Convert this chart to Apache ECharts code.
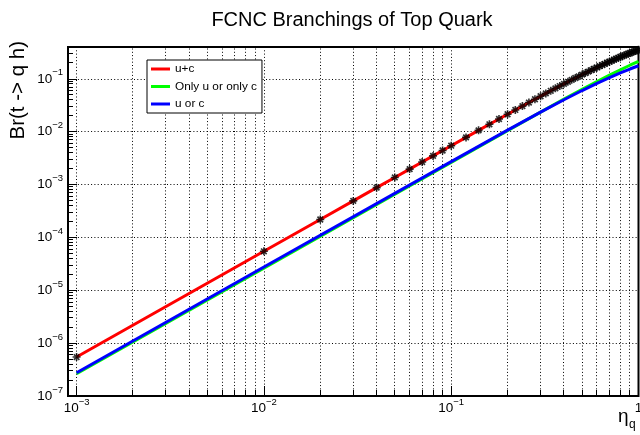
<!DOCTYPE html>
<html>
<head>
<meta charset="utf-8">
<script src="https://cdn.jsdelivr.net/npm/echarts@6.0.0/dist/echarts.min.js"></script>
<style>
  html, body { margin: 0; padding: 0; background: #fff; }
  #chart { width: 640px; height: 435px; }
</style>
</head>
<body>
<div id="chart"></div>
<script>
// eta_q points where the u+c curve is sampled (markers sit on these)
let etaPoints = [0.001, 0.01, 0.02, 0.03, 0.04, 0.05, 0.06, 0.07, 0.08, 0.09, 0.10,
  0.12, 0.14, 0.16, 0.18, 0.20, 0.22, 0.24, 0.26, 0.28, 0.30, 0.32, 0.34, 0.36, 0.38,
  0.40, 0.42, 0.44, 0.46, 0.48, 0.50, 0.52, 0.54, 0.56, 0.58, 0.60, 0.62, 0.64, 0.66,
  0.68, 0.70, 0.72, 0.74, 0.76, 0.78, 0.80, 0.82, 0.84, 0.86, 0.88, 0.90, 0.92, 0.94,
  0.96, 0.98, 1.00]
let brUC = [5.46e-7, 5.46e-5, 2.18e-4, 4.91e-4, 8.73e-4, 1.363e-3, 1.962e-3, 2.668e-3,
  3.482e-3, 4.403e-3, 5.430e-3, 7.80e-3, 0.01059, 0.01379, 0.01738, 0.02137, 0.02575,
  0.03049, 0.03560, 0.04105, 0.04684, 0.05295, 0.05937, 0.06609, 0.07308, 0.08034,
  0.08785, 0.09560, 0.1036, 0.1117, 0.1201, 0.1286, 0.1373, 0.1462, 0.1552, 0.1643,
  0.1735, 0.1828, 0.1921, 0.2016, 0.2111, 0.2206, 0.2302, 0.2398, 0.2494, 0.2590,
  0.2685, 0.2781, 0.2877, 0.2972, 0.3066, 0.3161, 0.3254, 0.3347, 0.3440, 0.3532]

let etaCoarse = [0.001, 0.01, 0.1, 0.2, 0.3, 0.4, 0.5, 0.6, 0.7, 0.8, 0.9, 1.0]
let brOnly = [2.63e-7, 2.63e-5, 2.62e-3, 0.01045, 0.02345, 0.04160, 0.0634, 0.0890, 0.1175, 0.1483, 0.1808, 0.2145]
let brUorC = [2.75e-7, 2.75e-5, 2.72e-3, 0.01069, 0.02342, 0.04017, 0.06005, 0.08214, 0.1055, 0.1295, 0.1533, 0.1766]

let seriesNames = ['u+c', 'Only u or only c', 'u or c']
let seriesColors = ['#ff0000', '#00ff00', '#0000ff']

// minor ticks (2..9 x 10^n)
let xMinor = [0.002, 0.003, 0.004, 0.005, 0.006, 0.007, 0.008, 0.009,
  0.02, 0.03, 0.04, 0.05, 0.06, 0.07, 0.08, 0.09,
  0.2, 0.3, 0.4, 0.5, 0.6, 0.7, 0.8, 0.9]
let yMinor = [2e-7, 3e-7, 4e-7, 5e-7, 6e-7, 7e-7, 8e-7, 9e-7,
  2e-6, 3e-6, 4e-6, 5e-6, 6e-6, 7e-6, 8e-6, 9e-6,
  2e-5, 3e-5, 4e-5, 5e-5, 6e-5, 7e-5, 8e-5, 9e-5,
  2e-4, 3e-4, 4e-4, 5e-4, 6e-4, 7e-4, 8e-4, 9e-4,
  2e-3, 3e-3, 4e-3, 5e-3, 6e-3, 7e-3, 8e-3, 9e-3,
  2e-2, 3e-2, 4e-2, 5e-2, 6e-2, 7e-2, 8e-2, 9e-2,
  0.2, 0.3]

let X_MIN = 0.0009, X_MAX = 1
let Y_MIN = 1e-7, Y_MAX = 0.4
let FONT = 'Liberation Sans'
let DOTS = [1, 2.3]

function pairs(xs, ys) {
  return xs.map((x, i) => [x, ys[i]])
}

function powLabel(value) {
  let e = Math.log10(value)
  let n = Math.round(e)
  if (Math.abs(e - n) > 1e-6) return ''
  if (n === 0) return '{b|1}'
  return '{b|10}{s|' + (n < 0 ? '\u2212' + (-n) : n) + '}'
}

let labelRich = {
  b: {fontSize: 13.5, fontFamily: FONT, color: '#000', lineHeight: 22},
  s: {fontSize: 9.5, fontFamily: FONT, color: '#000', lineHeight: 10, verticalAlign: 'top'}
}

function snap(v) {
  return Math.round(v - 0.5) + 0.5
}

function minorXItem(params, api) {
  let b = api.coord([api.value(0), Y_MIN])
  let t = api.coord([api.value(0), Y_MAX])
  let x = snap(b[0])
  return {
    type: 'group',
    children: [
      {type: 'line', shape: {x1: x, y1: b[1], x2: x, y2: t[1]},
        style: {stroke: '#000', lineWidth: 1, lineDash: DOTS}},
      {type: 'line', shape: {x1: x, y1: b[1], x2: x, y2: b[1] - 6},
        style: {stroke: '#000', lineWidth: 1}}
    ]
  }
}

function minorYItem(params, api) {
  let l = api.coord([X_MIN, api.value(1)])
  let y = snap(l[1])
  return {
    type: 'line',
    shape: {x1: l[0], y1: y, x2: l[0] + 5, y2: y},
    style: {stroke: '#000', lineWidth: 1}
  }
}

// asterisk marker, thick arms
let starPath = 'path://M0 8L20 8L20 12L0 12Z M8 0L12 0L12 20L8 20Z ' +
  'M1.5 4.5L4.5 1.5L18.5 15.5L15.5 18.5Z M15.5 1.5L18.5 4.5L4.5 18.5L1.5 15.5Z'

let myChart = echarts.init(document.getElementById('chart'), null, {renderer: 'canvas'})
let option = {
  animation: false,
  backgroundColor: '#fff',
  textStyle: {fontFamily: FONT},
  grid: {
    left: 68,
    right: 1.5,
    top: 47,
    bottom: 39,
    show: true,
    borderColor: '#000',
    borderWidth: 2,
    outerBoundsMode: 'none'
  },
  legend: {
    data: seriesNames,
    orient: 'vertical',
    left: 147,
    top: 60,
    padding: [3, 5, 3, 4],
    itemGap: 5.5,
    itemWidth: 19,
    itemHeight: 3,
    icon: 'rect',
    backgroundColor: '#fff',
    borderColor: '#000',
    borderWidth: 1,
    borderRadius: 0,
    textStyle: {fontSize: 11.8, fontFamily: FONT, color: '#000', lineHeight: 12}
  },
  xAxis: {
    type: 'log',
    logBase: 10,
    min: X_MIN,
    max: X_MAX,
    splitNumber: 3,
    axisLine: {show: false},
    axisTick: {show: true, inside: true, length: 10, lineStyle: {color: '#000', width: 1}},
    axisLabel: {
      color: '#000',
      margin: 1,
      formatter: powLabel,
      rich: labelRich,
      showMinLabel: true,
      showMaxLabel: true,
      hideOverlap: false
    },
    splitLine: {show: true, lineStyle: {color: '#000', width: 1, type: DOTS}}
  },
  yAxis: {
    type: 'log',
    logBase: 10,
    min: Y_MIN,
    max: Y_MAX,
    splitNumber: 6,
    axisLine: {show: false},
    axisTick: {show: true, inside: true, length: 9, lineStyle: {color: '#000', width: 1}},
    axisLabel: {
      color: '#000',
      margin: 5,
      formatter: powLabel,
      rich: labelRich,
      showMinLabel: true,
      showMaxLabel: true,
      hideOverlap: false
    },
    splitLine: {show: true, lineStyle: {color: '#000', width: 1, type: DOTS}}
  },
  graphic: [
    {type: 'text', x: 352, y: 20, silent: true,
      style: {text: 'FCNC Branchings of Top Quark', fontSize: 20, fontFamily: FONT,
        fill: '#000', align: 'center', verticalAlign: 'middle'}},
    {type: 'text', x: 18.5, y: 41, rotation: Math.PI / 2, silent: true,
      style: {text: 'Br(t -> q h)', fontSize: 20.5, fontFamily: FONT,
        fill: '#000', align: 'right', verticalAlign: 'middle'}},
    {type: 'text', x: 618, y: 416.5, silent: true,
      style: {text: '\u03b7', fontSize: 19, fontFamily: FONT,
        fill: '#000', align: 'left', verticalAlign: 'middle'}},
    {type: 'text', x: 629, y: 425, silent: true,
      style: {text: 'q', fontSize: 12, fontFamily: FONT,
        fill: '#000', align: 'left', verticalAlign: 'middle'}}
  ],
  series: [
    {
      type: 'custom',
      silent: true,
      z: 1,
      renderItem: minorXItem,
      data: xMinor.map(v => [v, Y_MIN])
    },
    {
      type: 'custom',
      silent: true,
      z: 1,
      renderItem: minorYItem,
      data: yMinor.map(v => [X_MIN, v])
    },
    {
      name: seriesNames[1],
      type: 'line',
      z: 2,
      symbol: 'none',
      color: seriesColors[1],
      lineStyle: {width: 3, color: seriesColors[1]},
      data: pairs(etaCoarse, brOnly)
    },
    {
      name: seriesNames[2],
      type: 'line',
      z: 3,
      symbol: 'none',
      color: seriesColors[2],
      lineStyle: {width: 3, color: seriesColors[2]},
      data: pairs(etaCoarse, brUorC)
    },
    {
      name: seriesNames[0],
      type: 'line',
      z: 4,
      symbol: 'none',
      color: seriesColors[0],
      lineStyle: {width: 3, color: seriesColors[0]},
      data: pairs(etaPoints, brUC)
    },
    {
      type: 'scatter',
      z: 5,
      silent: true,
      symbol: starPath,
      symbolSize: 8,
      itemStyle: {color: '#000'},
      data: pairs(etaPoints, brUC)
    }
  ]
}
myChart.setOption(option)
</script>
</body>
</html>
